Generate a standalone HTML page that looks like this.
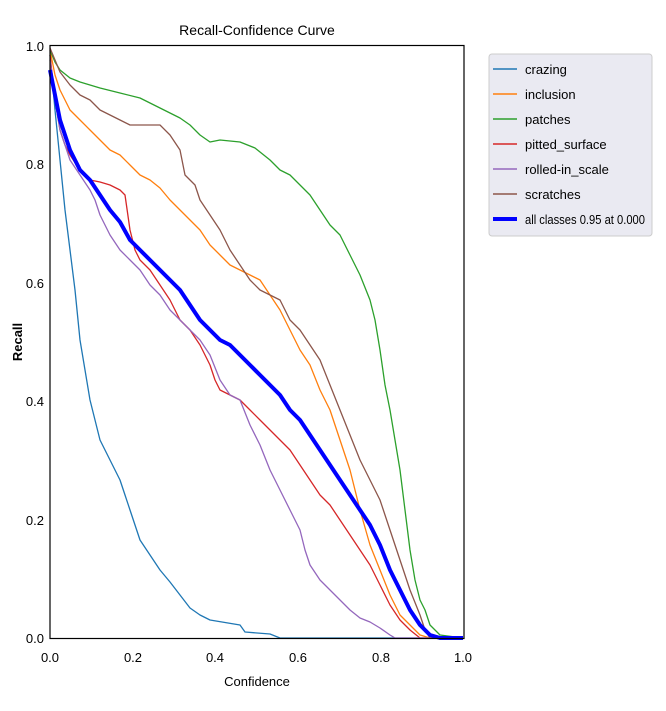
<!DOCTYPE html>
<html><head><style>body{margin:0;background:#fff}svg{display:block}text{font-family:"Liberation Sans",sans-serif;fill:#000}</style></head>
<body>
<svg width="666" height="711" viewBox="0 0 666 711">
<text x="257" y="35" font-size="14" text-anchor="middle">Recall-Confidence Curve</text>
<g font-size="13" text-anchor="end">
<text x="44" y="51">1.0</text><text x="44" y="169">0.8</text><text x="44" y="288">0.6</text><text x="44" y="406">0.4</text><text x="44" y="525">0.2</text><text x="44" y="643">0.0</text>
</g>
<g font-size="13" text-anchor="middle">
<text x="50" y="662">0.0</text><text x="133" y="662">0.2</text><text x="215" y="662">0.4</text><text x="298" y="662">0.6</text><text x="381" y="662">0.8</text><text x="463" y="662">1.0</text>
</g>
<text x="257" y="686" font-size="13" text-anchor="middle">Confidence</text>
<text transform="translate(22,342) rotate(-90)" font-size="13" font-weight="bold" text-anchor="middle">Recall</text>
<g fill="none" stroke-width="1.3" stroke-linejoin="round">
<polyline stroke="#1f77b4" points="50,55 55,110 60,160 65,210 70,250 75,290 80,340 85,370 90,400 95,420 100,440 110,460 115,470 120,480 125,495 130,510 135,525 140,540 150,555 160,570 170,582 180,595 190,608 200,615 210,620 240,625 245,632 270,634 280,638 463,638"/>
<polyline stroke="#ff7f0e" points="50,50 55,75 60,90 70,110 80,120 90,130 100,140 110,150 120,155 130,165 140,175 150,180 160,188 170,200 180,210 190,220 200,230 210,245 220,255 230,265 240,270 250,275 260,280 270,295 280,310 290,330 300,350 310,365 320,390 330,410 340,440 350,470 360,510 370,545 380,570 390,595 400,615 410,625 420,635 430,638 463,638"/>
<polyline stroke="#2ca02c" points="50,50 55,62 60,70 70,78 80,82 100,88 120,93 140,98 160,108 180,118 190,125 200,135 210,142 220,140 240,142 255,148 260,152 270,160 280,170 290,175 300,185 310,195 320,210 330,225 340,235 350,255 360,275 370,300 375,320 380,350 385,385 390,410 395,440 400,470 405,510 410,550 415,580 420,600 425,610 430,625 440,635 463,638"/>
<polyline stroke="#d62728" points="50,55 55,100 60,130 65,145 70,155 80,170 90,180 100,182 110,185 120,190 125,195 130,230 135,250 140,260 145,265 150,270 160,285 170,300 180,320 190,330 200,345 210,365 215,380 220,390 230,395 240,400 250,410 260,420 270,430 280,440 290,450 300,465 310,480 320,495 330,505 340,520 350,535 360,550 370,565 380,585 390,605 400,620 410,630 420,638 463,638"/>
<polyline stroke="#9467bd" points="50,60 55,100 60,130 70,160 80,175 90,190 95,200 100,215 110,235 120,250 130,260 140,270 150,285 160,295 170,310 180,320 190,330 200,340 210,355 220,380 230,395 240,400 250,425 260,445 270,470 280,490 290,510 300,530 305,550 310,565 320,580 330,590 340,600 350,610 360,618 370,622 380,628 390,635 395,638 463,638"/>
<polyline stroke="#8c564b" points="50,48 55,60 60,72 70,85 80,95 90,100 100,110 110,115 120,120 130,125 160,125 170,135 180,150 185,175 195,185 200,200 210,215 220,230 230,250 240,265 250,280 260,290 270,295 280,300 290,320 300,330 310,345 320,360 330,385 340,410 350,435 360,460 370,480 380,500 390,530 400,560 410,590 420,615 425,630 430,638 463,638"/>
<polyline stroke="#0000ff" stroke-width="4" points="50,70 60,120 70,150 80,170 90,180 100,195 110,210 120,222 130,240 140,250 150,260 160,270 170,280 180,290 190,305 200,320 210,330 220,340 230,345 240,355 250,365 260,375 270,385 280,395 290,410 300,420 310,435 320,450 330,465 340,480 350,495 360,510 370,525 380,545 390,570 400,590 410,610 420,625 430,635 440,638 463,638"/>
</g>
<rect x="50" y="45.5" width="414" height="593" fill="none" stroke="#000" stroke-width="1.2"/>
<rect x="489" y="54" width="163" height="182" rx="3" fill="#eaeaf2" stroke="#ccc"/>
<g stroke-width="1.5">
<line x1="493" y1="69" x2="517" y2="69" stroke="#1f77b4"/>
<line x1="493" y1="94" x2="517" y2="94" stroke="#ff7f0e"/>
<line x1="493" y1="119" x2="517" y2="119" stroke="#2ca02c"/>
<line x1="493" y1="144" x2="517" y2="144" stroke="#d62728"/>
<line x1="493" y1="169" x2="517" y2="169" stroke="#9467bd"/>
<line x1="493" y1="194" x2="517" y2="194" stroke="#8c564b"/>
<line x1="493" y1="219" x2="517" y2="219" stroke="#0000ff" stroke-width="4"/>
</g>
<g font-size="13">
<text x="525" y="74">crazing</text><text x="525" y="99">inclusion</text><text x="525" y="124">patches</text><text x="525" y="149">pitted_surface</text><text x="525" y="174">rolled-in_scale</text><text x="525" y="199">scratches</text><text x="525" y="224" textLength="120" lengthAdjust="spacingAndGlyphs">all classes 0.95 at 0.000</text>
</g>
</svg>
</body></html>
